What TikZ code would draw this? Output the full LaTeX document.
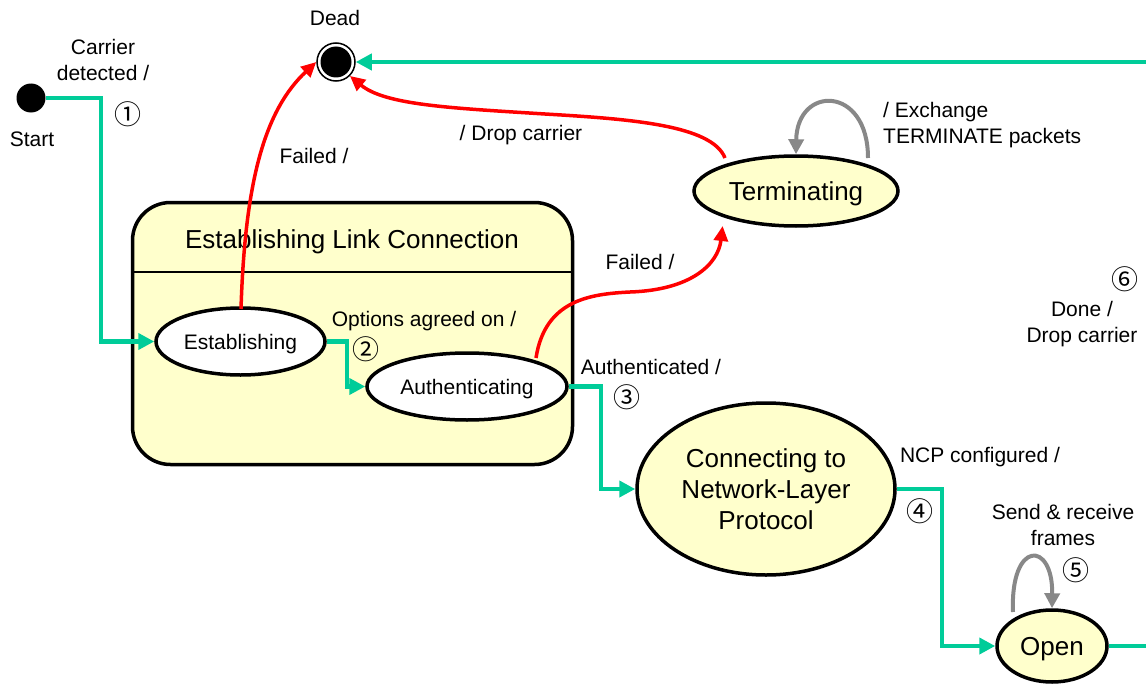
\documentclass[tikz,border=0pt]{standalone}
\usepackage{fontspec}
\setmainfont{Liberation Sans}
\newfontfamily\symfont{Noto Sans CJK JP}
\usetikzlibrary{arrows.meta,shapes.geometric}
\definecolor{grn}{RGB}{0,204,153}
\definecolor{paleyel}{RGB}{255,255,204}
\definecolor{loopgray}{RGB}{136,136,136}
\begin{document}
\begin{tikzpicture}[x=1pt,y=-1pt,
  lbl/.style={font=\fontsize{21}{26}\selectfont, align=center, inner sep=0pt},
  num/.style={font=\symfont\fontsize{27}{27}\selectfont, inner sep=0pt},
  bigstate/.style={ellipse, draw, line width=3.5pt, fill=paleyel, inner sep=0pt, text depth=0pt, font=\fontsize{26}{31}\selectfont, align=center},
  substate/.style={ellipse, draw, line width=3.5pt, fill=white, inner sep=0pt, text depth=0pt, font=\fontsize{21}{26}\selectfont},
  grnline/.style={draw=grn, line width=4.5pt},
  grnarrow/.style={grnline, -{Triangle[length=16pt,width=16pt]}},
  redarrow/.style={draw=red, line width=3.5pt, -{Triangle[length=15pt,width=14pt]}},
  grayarrow/.style={draw=loopgray, line width=4pt, -{Triangle[length=15pt,width=15pt]}}
]
\useasboundingbox (0,0) rectangle (1146,685);

% container
\node[draw, line width=3.5pt, fill=paleyel, rounded corners=38pt, minimum width=440pt, minimum height=262pt, inner sep=0pt] (elc) at (352.5,333.5) {};
\coordinate (divL) at (132,272);
\coordinate (divR) at (573,272);
\draw[line width=1.5pt] (divL) -- (divR);
\node[font=\fontsize{26}{31}\selectfont, inner sep=0pt, text depth=0pt] (elctitle) at (352,239) {Establishing Link Connection};

% states
\node[circle, fill=black, minimum size=29pt, inner sep=0pt] (start) at (31,98) {};
\node[circle, draw, line width=1.5pt, fill=white, minimum size=38pt, inner sep=0pt] (dead) at (336,62) {};
\node[circle, fill=black, minimum size=31pt, inner sep=0pt] (deadin) at (336,62) {};
\node[substate, minimum width=169pt, minimum height=67pt] (est) at (240.5,341.5) {Establishing};
\node[substate, minimum width=200pt, minimum height=67pt] (auth) at (467,386.5) {Authenticating};
\node[bigstate, minimum width=204pt, minimum height=70pt] (term) at (796,191) {Terminating};
\node[bigstate, minimum width=258pt, minimum height=172pt] (conn) at (766,489) {Connecting to\\Network-Layer\\Protocol};
\node[bigstate, minimum width=110pt, minimum height=72pt] (open) at (1052,646) {Open};

\coordinate (rightTop) at (1150,62);
\coordinate (rightBot) at (1150,646);

% green transitions
\draw[grnarrow] (start.east) -- (101,98) |- (est.west);
\draw[grnarrow] (est.east) -- (347,341.5) |- (auth.west);
\draw[grnarrow] (auth.east) -- (601,386.5) |- (conn.west);
\draw[grnarrow] (conn.east) -- (942,489) |- (open.west);
\draw[grnline] (open.east) -- (rightBot);
\draw[grnarrow] (rightTop) -- (dead.east);

% red transitions
\draw[redarrow] (241,309) .. controls (245,180) and (265,110) .. (dead.west);
\draw[redarrow] (725,158) .. controls (712,125) and (630,119) .. (545,114) .. controls (450,108) and (385,105) .. (dead.south east);
\draw[redarrow] (536,358) .. controls (545,300) and (590,294) .. (630,292) .. controls (690,290) and (718,265) .. (term.south west |- 0,226) ;

% self loops
\draw[grayarrow] (868,158) .. controls (868,85) and (797,85) .. (term.north);
\draw[grayarrow] (1013,612) .. controls (1010,540) and (1053,540) .. (open.north);

% labels
\node[lbl] (lstart) at (32,139) {Start};
\node[lbl] (ldead) at (335,18) {Dead};
\node[lbl] (lcarrier) at (103,60) {Carrier\\detected /};
\node[num] (n1) at (128,114) {①};
\node[lbl] (lfail1) at (314,156) {Failed /};
\node[lbl] (ldrop) at (521,135) {/ Drop carrier};
\node[lbl, anchor=west, align=left] (lexch) at (883,125) {/ Exchange\\TERMINATE packets};
\node[lbl] (lfail2) at (640,262) {Failed /};
\node[lbl] (lopt) at (424,321) {Options agreed on /};
\node[num] (n2) at (366,349) {②};
\node[lbl] (lauth) at (651,367) {Authenticated /};
\node[num] (n3) at (627,397) {③};
\node[num] (n6) at (1125,279) {⑥};
\node[lbl] (ldone) at (1082,324) {Done /\\Drop carrier};
\node[lbl] (lncp) at (980,457) {NCP configured /};
\node[num] (n4) at (920,511) {④};
\node[lbl] (lsend) at (1063,525) {Send \& receive\\frames};
\node[num] (n5) at (1076,570) {⑤};
\end{tikzpicture}
\end{document}
